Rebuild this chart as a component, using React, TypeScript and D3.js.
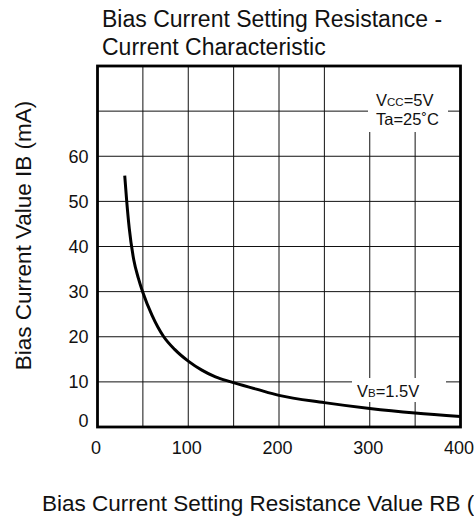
import React, { useRef, useEffect } from 'react';
import * as d3 from 'd3';

// curve readings (RB in ohm, IB in mA)
const resistance = [30, 32, 35, 40, 45, 50, 60, 73, 85, 100, 115, 130, 147, 175, 200, 250, 300, 350, 400];
const current = [55.7, 50.5, 44, 37, 33, 29.8, 24.8, 20, 17.2, 14.6, 12.6, 11.1, 10, 8.4, 7.0, 5.4, 4.1, 3.1, 2.35];

const xTicks = [0, 100, 200, 300, 400];
const yTicks = [0, 10, 20, 30, 40, 50, 60];
const xGrid = [50, 100, 150, 200, 250, 300, 350];
const yGrid = [10, 20, 30, 40, 50, 60, 70];

const titleLines = ['Bias Current Setting Resistance -', 'Current Characteristic'];
const xTitle = 'Bias Current Setting Resistance Value RB (Ω)';
const yTitle = 'Bias Current Value IB (mA)';

const FONT = 'Arial, "Liberation Sans", sans-serif';

const App = () => {
  const ref = useRef<SVGSVGElement>(null);

  useEffect(() => {
    const svg = d3.select(ref.current);
    svg.selectAll('*').remove();

    const x = d3.scaleLinear().domain([0, 400]).range([97.5, 460.5]);
    const y = d3.scaleLinear().domain([0, 80]).range([427, 66]);

    svg.append('rect').attr('width', 474).attr('height', 518).attr('fill', '#fff');

    // title
    svg.append('g')
      .selectAll('text')
      .data(titleLines)
      .enter()
      .append('text')
      .attr('x', 102)
      .attr('y', (d, i) => 27 + i * 28)
      .attr('font-size', 23)
      .attr('font-family', FONT)
      .attr('fill', '#111')
      .text(d => d);

    // grid
    const grid = svg.append('g').attr('stroke', '#111').attr('stroke-width', 1);
    grid.selectAll('.vx')
      .data(xGrid)
      .enter()
      .append('line')
      .attr('x1', d => x(d)).attr('x2', d => x(d))
      .attr('y1', y(0)).attr('y2', y(80));
    grid.selectAll('.hy')
      .data(yGrid)
      .enter()
      .append('line')
      .attr('y1', d => y(d)).attr('y2', d => y(d))
      .attr('x1', x(0)).attr('x2', x(400));

    // white patches behind the annotations
    svg.append('rect').attr('x', 368).attr('y', 67).attr('width', 80).attr('height', 65).attr('fill', '#fff');
    svg.append('rect').attr('x', 352).attr('y', 378).attr('width', 94).attr('height', 24).attr('fill', '#fff');

    // curve
    const line = d3.line<number>()
      .x((d, i) => x(resistance[i]))
      .y(d => y(d))
      .curve(d3.curveMonotoneX);
    svg.append('path')
      .datum(current)
      .attr('d', line)
      .attr('fill', 'none')
      .attr('stroke', '#000')
      .attr('stroke-width', 3);

    // frame
    svg.append('rect')
      .attr('x', x(0)).attr('y', y(80))
      .attr('width', x(400) - x(0)).attr('height', y(0) - y(80))
      .attr('fill', 'none')
      .attr('stroke', '#000')
      .attr('stroke-width', 2.8);

    // tick labels
    svg.append('g')
      .selectAll('text')
      .data(xTicks)
      .enter()
      .append('text')
      .attr('x', d => x(d) - 1.5)
      .attr('y', 454)
      .attr('text-anchor', 'middle')
      .attr('font-size', 18)
      .attr('font-family', FONT)
      .attr('fill', '#111')
      .text(d => d);
    svg.append('g')
      .selectAll('text')
      .data(yTicks)
      .enter()
      .append('text')
      .attr('x', 88.5)
      .attr('y', d => (d === 0 ? y(d) - 6 : y(d)))
      .attr('dy', '0.36em')
      .attr('text-anchor', 'end')
      .attr('font-size', 18)
      .attr('font-family', FONT)
      .attr('fill', '#111')
      .text(d => d);

    // axis titles (the x title runs off the right edge, as in the source)
    svg.append('text')
      .attr('x', 42)
      .attr('y', 511)
      .attr('font-size', 22.5)
      .attr('font-family', FONT)
      .attr('fill', '#111')
      .text(xTitle);
    svg.append('text')
      .attr('transform', 'translate(31,235.5) rotate(-90)')
      .attr('text-anchor', 'middle')
      .attr('font-size', 22.5)
      .attr('font-family', FONT)
      .attr('fill', '#111')
      .text(yTitle);

    // annotations
    const note = (tx: number, ty: number, parts: [string, number][]) => {
      const t = svg.append('text')
        .attr('x', tx)
        .attr('y', ty)
        .attr('font-family', FONT)
        .attr('fill', '#111');
      parts.forEach(([s, fs]) => t.append('tspan').attr('font-size', fs).text(s));
    };
    note(376, 106, [['V', 16.5], ['CC', 11.5], ['=5V', 16.5]]);
    note(376, 125, [['Ta=25˚C', 16.5]]);
    note(357, 397, [['V', 16.5], ['B', 11.5], ['=1.5V', 16.5]]);
  }, []);

  return (
    <svg
      ref={ref}
      width={474}
      height={518}
      style={{ position: 'absolute', left: 0, top: 0, display: 'block' }}
    />
  );
};

export default App;
